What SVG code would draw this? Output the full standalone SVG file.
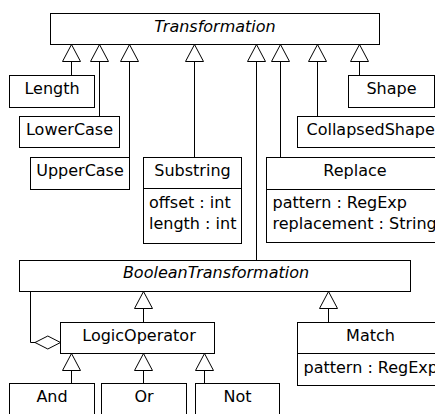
<svg xmlns="http://www.w3.org/2000/svg" width="435" height="414" viewBox="0 0 435 414" xmlns:xlink="http://www.w3.org/1999/xlink">
<style>
  .box { fill: #ffffff; stroke: #000000; stroke-width: 1; }
  .ln { fill: none; stroke: #000000; stroke-width: 1; }
  .tri { fill: #ffffff; stroke: #000000; stroke-width: 1; }
  text { font-family: "DejaVu Sans", "Liberation Sans", sans-serif; font-size: 16px; fill: #000000; }
  .c { text-anchor: middle; }
  .abs { font-style: italic; }
</style>
<defs>
  <polygon id="tri" class="tri" points="0,0 -9,17 9,17"/>
</defs>
<rect width="435" height="414" fill="#ffffff"/>

<g id="connectors">
  <!-- to Transformation -->
  <path class="ln" d="M71.5,61.5 V75.5"/>
  <path class="ln" d="M99.5,61.5 V116.5"/>
  <path class="ln" d="M129.5,61.5 V157.5"/>
  <path class="ln" d="M194.5,61.5 V157.5"/>
  <path class="ln" d="M256.5,61.5 V260.5"/>
  <path class="ln" d="M280.5,61.5 V157.5"/>
  <path class="ln" d="M317.5,61.5 V116.5"/>
  <path class="ln" d="M359.5,61.5 V75.5"/>
  <use xlink:href="#tri" href="#tri" x="71.5" y="44.5"/>
  <use xlink:href="#tri" href="#tri" x="99.5" y="44.5"/>
  <use xlink:href="#tri" href="#tri" x="129.5" y="44.5"/>
  <use xlink:href="#tri" href="#tri" x="194.5" y="44.5"/>
  <use xlink:href="#tri" href="#tri" x="256.5" y="44.5"/>
  <use xlink:href="#tri" href="#tri" x="280.5" y="44.5"/>
  <use xlink:href="#tri" href="#tri" x="317.5" y="44.5"/>
  <use xlink:href="#tri" href="#tri" x="359.5" y="44.5"/>
  <!-- to BooleanTransformation -->
  <path class="ln" d="M143.5,308.5 V322.5"/>
  <path class="ln" d="M328.5,308.5 V322.5"/>
  <use xlink:href="#tri" href="#tri" x="143.5" y="291.5"/>
  <use xlink:href="#tri" href="#tri" x="328.5" y="291.5"/>
  <!-- to LogicOperator -->
  <path class="ln" d="M71.5,370.5 V383.5"/>
  <path class="ln" d="M143.5,370.5 V383.5"/>
  <path class="ln" d="M204.5,370.5 V383.5"/>
  <use xlink:href="#tri" href="#tri" x="71.5" y="353.5"/>
  <use xlink:href="#tri" href="#tri" x="143.5" y="353.5"/>
  <use xlink:href="#tri" href="#tri" x="204.5" y="353.5"/>
  <!-- aggregation -->
  <path class="ln" d="M30.5,291.5 V342.5 H35"/>
  <polygon class="tri" points="35,342.5 47.8,336 60.5,342.5 47.8,349"/>
</g>

<g id="Transformation">
  <rect class="box" x="50.5" y="13.5" width="329" height="31"/>
  <text class="c abs" x="215" y="31.5">Transformation</text>
</g>
<g id="Length">
  <rect class="box" x="9.5" y="75.5" width="85" height="32"/>
  <text class="c" x="52" y="94">Length</text>
</g>
<g id="LowerCase">
  <rect class="box" x="19.5" y="116.5" width="100" height="31"/>
  <text class="c" x="69.5" y="135">LowerCase</text>
</g>
<g id="UpperCase">
  <rect class="box" x="30.5" y="157.5" width="99" height="32"/>
  <text class="c" x="80" y="176">UpperCase</text>
</g>
<g id="Substring">
  <rect class="box" x="143.5" y="157.5" width="98" height="86"/>
  <path class="ln" d="M143.5,188.5 H241.5"/>
  <text class="c" x="192.5" y="176">Substring</text>
  <text x="149" y="208">offset : int</text>
  <text x="149" y="229">length : int</text>
</g>
<g id="Replace">
  <rect class="box" x="266.5" y="157.5" width="177" height="85"/>
  <path class="ln" d="M266.5,189.5 H443.5"/>
  <text class="c" x="355" y="176">Replace</text>
  <text x="272.5" y="208">pattern : RegExp</text>
  <text x="272.5" y="229">replacement : String</text>
</g>
<g id="Shape">
  <rect class="box" x="348.5" y="75.5" width="86" height="32"/>
  <text class="c" x="391.5" y="94">Shape</text>
</g>
<g id="CollapsedShape">
  <rect class="box" x="297.5" y="116.5" width="147" height="31"/>
  <text x="306.5" y="135">CollapsedShape</text>
</g>
<g id="BooleanTransformation">
  <rect class="box" x="19.5" y="260.5" width="391" height="31"/>
  <text class="c abs" x="216" y="278">BooleanTransformation</text>
</g>
<g id="LogicOperator">
  <rect class="box" x="60.5" y="322.5" width="154" height="31"/>
  <text class="c" x="139" y="340.5">LogicOperator</text>
</g>
<g id="Match">
  <rect class="box" x="297.5" y="322.5" width="146" height="63"/>
  <path class="ln" d="M297.5,353.5 H443.5"/>
  <text class="c" x="370.5" y="340.5">Match</text>
  <text x="303.5" y="373">pattern : RegExp</text>
</g>
<g id="And">
  <rect class="box" x="9.5" y="383.5" width="85" height="40"/>
  <text class="c" x="52" y="402">And</text>
</g>
<g id="Or">
  <rect class="box" x="101.5" y="383.5" width="85" height="40"/>
  <text class="c" x="144" y="402">Or</text>
</g>
<g id="Not">
  <rect class="box" x="195.5" y="383.5" width="84" height="40"/>
  <text class="c" x="237.5" y="402">Not</text>
</g>
</svg>
